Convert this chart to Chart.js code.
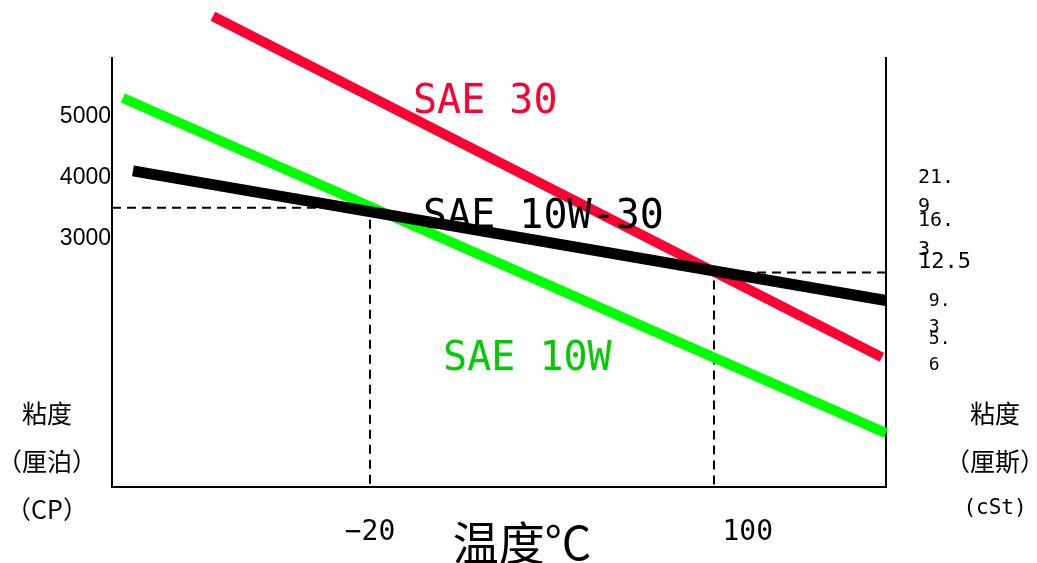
<!DOCTYPE html>
<html>
<head>
<meta charset="utf-8">
<script src="https://cdn.jsdelivr.net/npm/chart.js@4/dist/chart.umd.min.js"></script>
<style>
  html, body { margin: 0; padding: 0; background: #fff; }
  #wrap { width: 1037px; height: 563px; position: relative; }
</style>
</head>
<body>
<div id="wrap"><canvas id="chart"></canvas></div>
<script>
// viscosity vs temperature, schematic
const seriesNames = ['SAE 10W-30', 'SAE 30', 'SAE 10W'];
const tempStart = [-102.7, -74.8, -106.2];
const tempEnd = [160, 158.6, 160];
const viscStart = [4060, 6584, 5249];
const viscEnd = [1944, 1016, -221];

const tempTicks = [-20, 100];
const tempLabels = ['\u221220', '    100'];
const cpTicks = [3000, 4000, 5000];
const cStLabels = ['21.9', '16.3', '12.5', '9.3', '5.6'];
const cStTickAt = [3735, 3043, 2595, 1749, 1130]; // where each cSt label sits on the CP scale
const cStFontSize = [20, 20, 22, 18, 18];

const guideTemps = [-20, 100];
const guideVisc = [3458, 2400];

const lineColors = ['#000000', '#FF0033', '#00FF00'];
const textColors = ['#000000', '#FF0033', '#00CC00'];

const X_MIN = -110, X_MAX = 160, Y_MIN = -1100, Y_MAX = 5900;

// label anchors, in temperature / CP units
const nameSpots = [[-1.5, 3300], [-5, 5168], [5.5, 984]];

const datasets = seriesNames.map((name, i) => ({
  label: name,
  data: [{x: tempStart[i], y: viscStart[i]}, {x: tempEnd[i], y: viscEnd[i]}],
  borderColor: lineColors[i],
  borderWidth: i === 0 ? 11 : 10,
  showLine: true,
  pointRadius: 0,
  clip: false
}));

guideTemps.forEach((t, i) => {
  const edge = t < 50 ? X_MIN : X_MAX;
  datasets.push({
    label: 'guide' + i,
    data: [{x: edge, y: guideVisc[i]}, {x: t, y: guideVisc[i]}, {x: t, y: Y_MIN}],
    borderColor: '#000',
    borderWidth: 2,
    borderDash: [9, 6],
    showLine: true,
    pointRadius: 0
  });
});

const notes = {
  id: 'notes',
  afterDraw(chart) {
    const {ctx, chartArea: a, scales: {x, y}} = chart;
    ctx.save();
    ctx.textBaseline = 'middle';

    // series names beside the lines
    ctx.font = '40px "DejaVu Sans Mono"';
    ctx.textAlign = 'left';
    nameSpots.forEach((p, i) => {
      ctx.fillStyle = textColors[i];
      ctx.fillText(seriesNames[i], x.getPixelForValue(p[0]), y.getPixelForValue(p[1]));
    });

    ctx.fillStyle = '#000';
    ctx.textAlign = 'center';
    ctx.font = '25px "Noto Sans CJK SC"';
    ['粘度', '（厘泊）', '（CP）'].forEach((t, i) => ctx.fillText(t, a.left - 65, a.bottom - 74 + i * 48));
    ['粘度', '（厘斯）'].forEach((t, i) => ctx.fillText(t, a.right + 109, a.bottom - 74 + i * 48));
    ctx.font = '21px "DejaVu Sans Mono"';
    ctx.fillText('(cSt)', a.right + 109, a.bottom + 22);

    ctx.font = '46px "Noto Sans CJK SC"';
    ctx.fillText('温度°C', x.getPixelForValue(33), a.bottom + 56);
    ctx.restore();
  }
};

new Chart(document.getElementById('chart'), {
  type: 'scatter',
  data: { datasets },
  plugins: [notes],
  options: {
    responsive: true,
    maintainAspectRatio: false,
    animation: false,
    layout: { padding: { top: 57, left: 0, right: 0, bottom: 0 } },
    plugins: { legend: { display: false }, tooltip: { enabled: false } },
    scales: {
      x: {
        type: 'linear', min: X_MIN, max: X_MAX,
        grid: { display: false, drawTicks: false },
        border: { display: true, color: '#000', width: 2 },
        afterBuildTicks: s => { s.ticks = tempTicks.map(v => ({value: v})); },
        afterFit: s => { s.height = 76; },
        ticks: {
          autoSkip: false, maxRotation: 0, padding: 29, color: '#000',
          font: { family: 'DejaVu Sans Mono', size: 28 },
          callback: (v, i) => tempLabels[i]
        }
      },
      y: {
        type: 'linear', position: 'left', min: Y_MIN, max: Y_MAX,
        grid: { display: false, drawTicks: false },
        border: { display: true, color: '#000', width: 2 },
        afterBuildTicks: s => { s.ticks = cpTicks.map(v => ({value: v})); },
        afterFit: s => { s.width = 112; },
        ticks: {
          autoSkip: false, padding: 1, color: '#000', labelOffset: 3,
          font: { family: 'Liberation Sans', size: 23 },
          callback: (v, i) => String(cpTicks[i])
        }
      },
      y2: {
        type: 'linear', position: 'right', min: Y_MIN, max: Y_MAX,
        grid: { display: false, drawTicks: false },
        border: { display: true, color: '#000', width: 2 },
        afterBuildTicks: s => { s.ticks = cStTickAt.map(v => ({value: v})); },
        afterFit: s => { s.width = 151; },
        ticks: {
          autoSkip: false, padding: 32, color: '#000', labelOffset: 2,
          font: ctx => ({ family: 'DejaVu Sans Mono', size: cStFontSize[ctx.index] || 20, lineHeight: 1.45 }),
          callback: (v, i) => {
            const t = cStLabels[i];
            if (i === 2) return t;
            const [a, b] = t.split('.');
            const pad = cStFontSize[i] < 20 ? ' ' : '';
            return [pad + a + '.', pad + b];
          }
        }
      }
    }
  }
});
</script>
</body>
</html>
